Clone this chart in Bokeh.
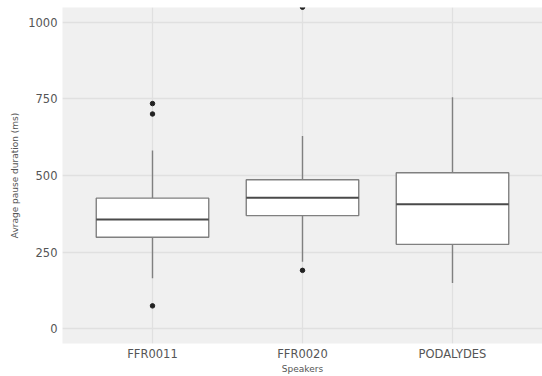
from bokeh.plotting import figure
from bokeh.models import ColumnDataSource, FactorRange, Range1d, FixedTicker
from bokeh.transform import dodge
from bokeh.embed import file_html
from bokeh.resources import INLINE

# Box statistics per speaker (ms)
speakers = ["FFR0011", "FFR0020", "PODALYDES"]
whisker_low = [164, 218, 149]
q1 = [298, 369, 275]
median = [356, 427, 406]
q3 = [426, 486, 509]
whisker_high = [582, 629, 756]

# Outlying points
outlier_speaker = ["FFR0011", "FFR0011", "FFR0011", "FFR0020", "FFR0020"]
outlier_value = [735, 701, 74, 190, 1050]

y_ticks = [0, 250, 500, 750, 1000]

src = ColumnDataSource(dict(sp=speakers, lo=whisker_low, q1=q1, med=median,
                            q3=q3, hi=whisker_high))
out = ColumnDataSource(dict(sp=outlier_speaker, v=outlier_value))

p = figure(width=542, height=376, output_backend="svg", toolbar_location=None,
           x_range=FactorRange(*speakers, range_padding=0.1,
                               range_padding_units="absolute"),
           y_range=Range1d(-49, 1049),
           min_border_left=62, min_border_right=0, min_border_top=7,
           min_border_bottom=33)

p.background_fill_color = "#f0f0f0"
p.border_fill_color = "white"
p.outline_line_color = None

# grid
p.xgrid.grid_line_color = "#e0e0e0"
p.xgrid.grid_line_width = 1.3
p.ygrid.grid_line_color = "#e0e0e0"
p.ygrid.grid_line_width = 1.5
p.yaxis.ticker = FixedTicker(ticks=y_ticks)

# axes
for ax in (p.xaxis[0], p.yaxis[0]):
    ax.axis_line_color = None
    ax.major_tick_line_color = None
    ax.minor_tick_line_color = None
    ax.major_tick_out = 0
    ax.major_tick_in = 0
    ax.minor_tick_out = 0
    ax.minor_tick_in = 0
    ax.major_label_text_font = "DejaVu Sans"
    ax.major_label_text_font_size = "11.5px"
    ax.major_label_text_color = "#555555"
    ax.axis_label_text_font = "DejaVu Sans"
    ax.axis_label_text_font_size = "9px"
    ax.axis_label_text_font_style = "normal"
    ax.axis_label_text_color = "#555555"
p.yaxis.major_label_standoff = 5
p.xaxis.major_label_standoff = 3
p.yaxis.axis_label_standoff = 5
p.xaxis.axis_label_standoff = 0
p.xaxis.axis_label = "Speakers"
p.yaxis.axis_label = "Avrage pause duration (ms)"

# whiskers
p.segment(x0="sp", y0="q3", x1="sp", y1="hi", source=src,
          line_color="#808080", line_width=1.4)
p.segment(x0="sp", y0="lo", x1="sp", y1="q1", source=src,
          line_color="#808080", line_width=1.4)

# boxes
p.vbar(x="sp", bottom="q1", top="q3", width=0.75, source=src,
       fill_color="white", line_color="#808080", line_width=1.4)

# medians
p.segment(x0=dodge("sp", -0.375, range=p.x_range), y0="med",
          x1=dodge("sp", 0.375, range=p.x_range), y1="med", source=src,
          line_color="#4a4a4a", line_width=2)

# outliers
p.scatter(x="sp", y="v", source=out, size=4.5, color="#222222")

open("out.html", "w").write(file_html(p, INLINE))
